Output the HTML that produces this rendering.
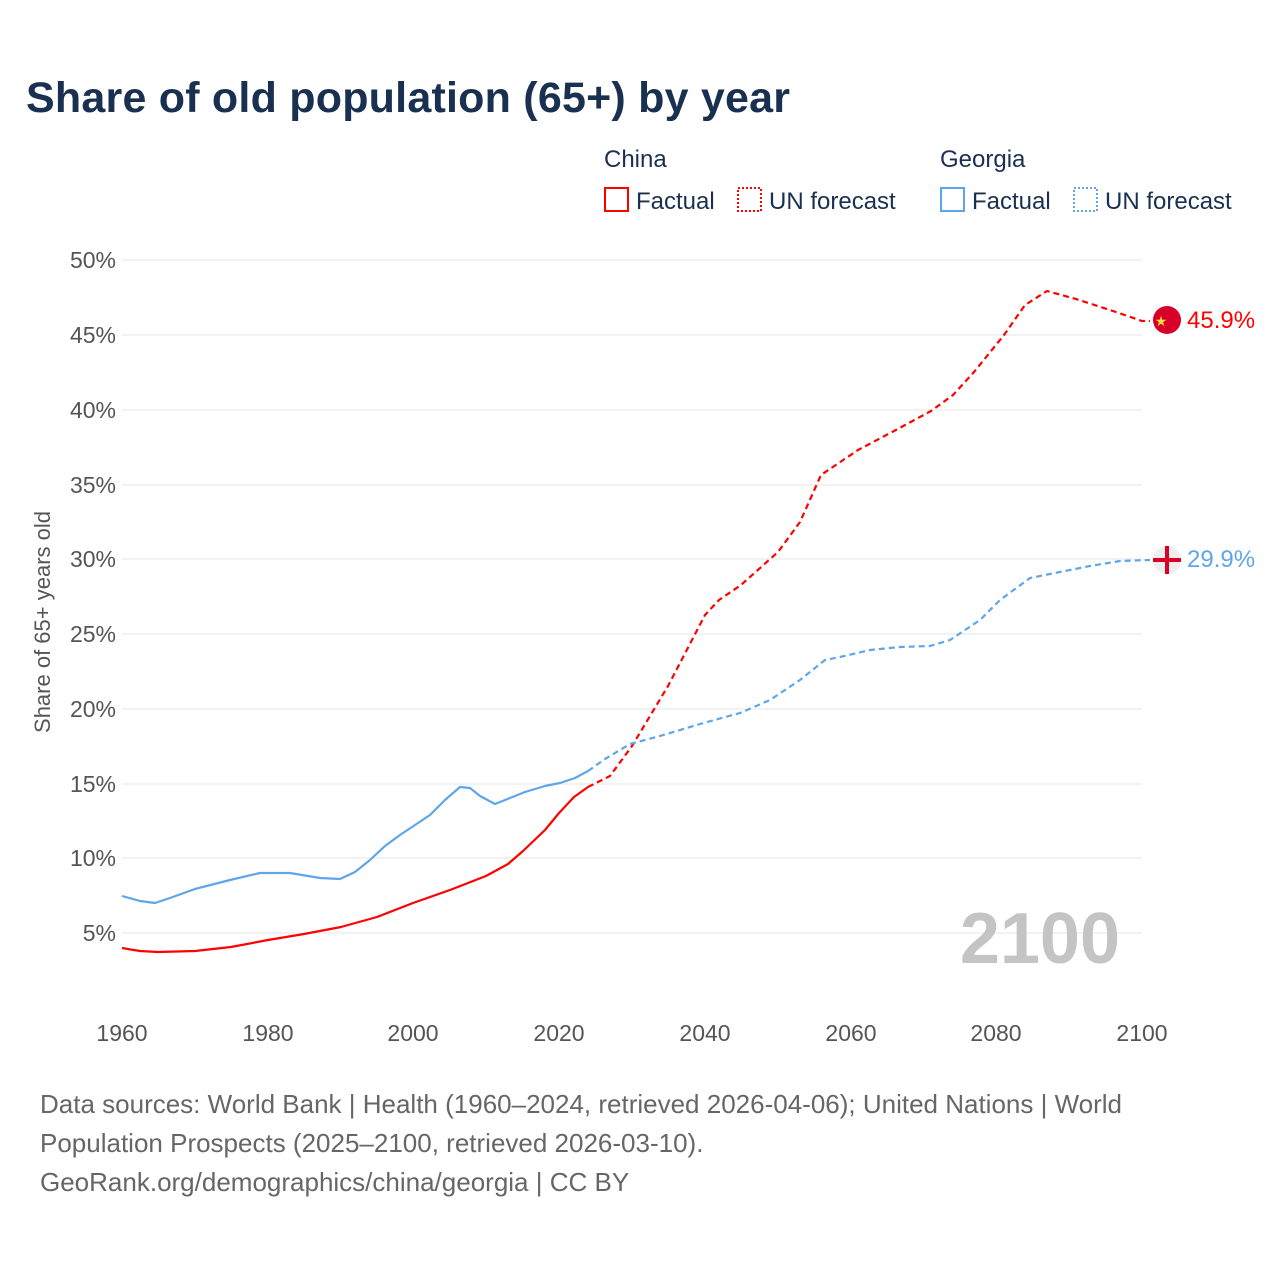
<!DOCTYPE html>
<html><head><meta charset="utf-8"><style>
body{margin:0;background:#fff;font-family:"Liberation Sans",sans-serif;}
</style></head><body>
<svg width="1280" height="1280" xmlns="http://www.w3.org/2000/svg" font-family="Liberation Sans, sans-serif">
<rect width="1280" height="1280" fill="#fff"/>
<text x="26" y="112" font-size="43" font-weight="bold" fill="#1a3050" textLength="764">Share of old population (65+) by year</text>
<g font-size="24" fill="#1a3050">
<text x="604" y="167">China</text>
<text x="940" y="167">Georgia</text>
<rect x="605" y="188" width="23" height="23" fill="none" stroke="#f00" stroke-width="2"/>
<text x="636" y="209">Factual</text>
<rect x="738" y="188" width="23" height="23" fill="none" stroke="#f00" stroke-width="2" stroke-dasharray="2,2"/>
<text x="769" y="209">UN forecast</text>
<rect x="941" y="188" width="23" height="23" fill="none" stroke="#5ea5ea" stroke-width="2"/>
<text x="972" y="209">Factual</text>
<rect x="1074" y="188" width="23" height="23" fill="none" stroke="#5ea5ea" stroke-width="2" stroke-dasharray="2,2"/>
<text x="1105" y="209">UN forecast</text>
</g>
<g stroke="#e6e6e6" stroke-width="1">
<line x1="122" x2="1142" y1="260" y2="260"/><line x1="122" x2="1142" y1="335" y2="335"/>
<line x1="122" x2="1142" y1="410" y2="410"/><line x1="122" x2="1142" y1="485" y2="485"/>
<line x1="122" x2="1142" y1="559" y2="559"/><line x1="122" x2="1142" y1="634" y2="634"/>
<line x1="122" x2="1142" y1="709" y2="709"/><line x1="122" x2="1142" y1="784" y2="784"/>
<line x1="122" x2="1142" y1="858" y2="858"/><line x1="122" x2="1142" y1="933" y2="933"/>
</g>
<g font-size="23" fill="#555" text-anchor="end">
<text x="116" y="268">50%</text><text x="116" y="343">45%</text><text x="116" y="418">40%</text>
<text x="116" y="493">35%</text><text x="116" y="567">30%</text><text x="116" y="642">25%</text>
<text x="116" y="717">20%</text><text x="116" y="792">15%</text><text x="116" y="866">10%</text>
<text x="116" y="941">5%</text>
</g>
<g font-size="23" fill="#555" text-anchor="middle">
<text x="122" y="1041">1960</text><text x="268" y="1041">1980</text><text x="413" y="1041">2000</text>
<text x="559" y="1041">2020</text><text x="705" y="1041">2040</text><text x="851" y="1041">2060</text>
<text x="996" y="1041">2080</text><text x="1142" y="1041">2100</text>
</g>
<text transform="translate(50,622) rotate(-90)" font-size="22" fill="#555" text-anchor="middle">Share of 65+ years old</text>
<text x="1120" y="963" font-size="72" font-weight="bold" fill="#c4c4c4" text-anchor="end">2100</text>
<g fill="none" stroke-width="2.2" stroke-linejoin="round">
<polyline stroke="#f00" points="122,948 140,951 158,952 195,951 231,947 268,940 304,934 341,927 377,917 413,903 450,890 486,876 508,864 523,851 545,830 559,813 574,797 588,787"/>
<polyline stroke="#f00" stroke-dasharray="6,4" points="588,787 596,783 610,776 632,746 668,686 705,615 719,600 741,585 778,552 800,522 821,475 858,450 894,431 931,411 953,395 974,372 1004,335 1025,305 1047,291 1076,299 1113,311 1142,321 1150,321"/>
<polyline stroke="#5ea5ea" points="122,896 140,901 155,903 170,898 195,889 230,880 260,873 290,873 320,878 340,879 355,872 370,860 385,846 400,835 415,825 430,815 445,800 460,787 470,788 480,796 495,804 510,798 525,792 545,786 560,783 575,778 588,771"/>
<polyline stroke="#5ea5ea" stroke-dasharray="6,4" points="588,771 605,759 630,744 660,736 700,724 740,713 770,700 800,680 825,660 840,657 870,650 900,647 930,646 950,640 980,620 1000,600 1030,578 1060,572 1090,566 1120,561 1150,560"/>
</g>
<circle cx="1167" cy="320" r="14" fill="#d80027"/>
<text x="1161" y="326" font-size="14" fill="#ffda44" text-anchor="middle">★</text>
<circle cx="1167" cy="560" r="14" fill="#eee"/>
<rect x="1153" y="558" width="28" height="4" fill="#d80027"/>
<rect x="1165" y="546" width="4" height="28" fill="#d80027"/>
<text x="1187" y="328" font-size="24" fill="#f00">45.9%</text>
<text x="1187" y="567" font-size="24" fill="#5ea5ea">29.9%</text>
<g font-size="26" fill="#666">
<text x="40" y="1113">Data sources: World Bank | Health (1960–2024, retrieved 2026-04-06); United Nations | World</text>
<text x="40" y="1152">Population Prospects (2025–2100, retrieved 2026-03-10).</text>
<text x="40" y="1191">GeoRank.org/demographics/china/georgia | CC BY</text>
</g>
</svg>
</body></html>
